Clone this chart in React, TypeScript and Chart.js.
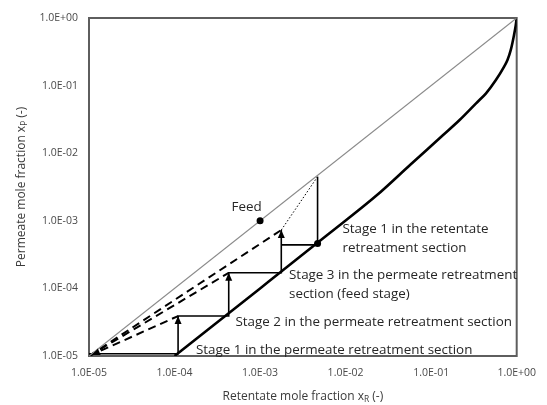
import React, { useEffect, useRef } from 'react';
import { Chart, registerables } from 'chart.js';

Chart.register(...registerables);

// ---- axis ticks ----
const decadeTicks = [1e-5, 1e-4, 1e-3, 1e-2, 1e-1, 1];
const tickLabels = ['1.0E-05', '1.0E-04', '1.0E-03', '1.0E-02', '1.0E-01', '1.0E+00'];

// ---- diagonal x_P = x_R ----
const diagonalX = [1e-5, 1];
const diagonalY = [1e-5, 1];

// ---- equilibrium (operating) curve ----
const equilibriumX = [1e-4, 1e-3, 6.15e-3, 0.0233, 0.0566, 0.138, 0.215, 0.335, 0.438, 0.571, 0.713, 0.78, 0.853, 0.931, 0.975, 1.0];
const equilibriumY = [1e-5, 1e-4, 6.2e-4, 2.4e-3, 6.68e-3, 0.0186, 0.031, 0.0547, 0.0769, 0.121, 0.191, 0.239, 0.337, 0.561, 0.78, 1.0];

// ---- permeate retreatment staircase ----
const permeateStepsX = [1e-5, 1.1e-4, 1.1e-4, 4.3e-4, 4.3e-4, 1.77e-3, 1.77e-3];
const permeateStepsY = [1.08e-5, 1.08e-5, 3.9e-5, 3.9e-5, 1.7e-4, 1.7e-4, 7.3e-4];

// ---- retentate retreatment step ----
const retentateStepX = [1.77e-3, 4.7e-3, 4.7e-3];
const retentateStepY = [4.4e-4, 4.4e-4, 4.5e-3];

// ---- arrow tips (top of each vertical) ----
const arrowTipX = [1.1e-4, 4.3e-4, 1.77e-3];
const arrowTipY = [3.9e-5, 1.7e-4, 7.3e-4];

// ---- dashed recycle lines start ----
const recycleOriginX = 1e-5;
const recycleOriginY = 1e-5;

// ---- dotted line ----
const dottedX = [4.7e-3, 1.77e-3];
const dottedY = [4.5e-3, 7.3e-4];

// ---- points ----
const feedX = [1e-3];
const feedY = [1e-3];
const retentateDotX = [4.7e-3];
const retentateDotY = [4.6e-4];

// ---- annotations ----
const labelTexts = [
  ['Feed'],
  ['Stage 1 in the retentate', 'retreatment section'],
  ['Stage 3 in the permeate retreatment', 'section (feed stage)'],
  ['Stage 2 in the permeate retreatment section'],
  ['Stage 1 in the permeate retreatment section'],
];
const labelX = [4.64e-4, 9.18e-3, 2.18e-3, 5.16e-4, 1.78e-4];
const labelY = [1.6e-3, 7.56e-4, 1.58e-4, 3.2e-5, 1.2e-5];

const FONT = '"Open Sans", "Liberation Sans", sans-serif';
const TEXT_COLOR = '#262626';

const pts = (xs: number[], ys: number[]) => xs.map((x, i) => ({ x, y: ys[i] }));

export default function App() {
  const ref = useRef<HTMLCanvasElement>(null);

  useEffect(() => {
    document.body.style.margin = '0';
    const canvas = ref.current!;

    const line = (data: any[], extra: any) => ({
      data,
      showLine: true,
      pointRadius: 0,
      pointHoverRadius: 0,
      borderColor: '#000',
      backgroundColor: '#000',
      fill: false,
      ...extra,
    });

    const datasets: any[] = [
      {
        data: pts(feedX, feedY),
        showLine: false,
        pointRadius: 3.5,
        borderWidth: 0,
        backgroundColor: '#000',
        borderColor: '#000',
      },
      {
        data: pts(retentateDotX, retentateDotY),
        showLine: false,
        pointRadius: 3.5,
        borderWidth: 0,
        backgroundColor: '#000',
        borderColor: '#000',
      },
      line(pts(diagonalX, diagonalY), { borderColor: '#8a8a8a', borderWidth: 1.2 }),
      line(pts(equilibriumX, equilibriumY), { borderWidth: 2.6, cubicInterpolationMode: 'monotone' }),
      line(pts(permeateStepsX, permeateStepsY), { borderWidth: 1.6 }),
      line(pts(retentateStepX, retentateStepY), { borderWidth: 1.6 }),
      line(pts(dottedX, dottedY), { borderWidth: 1, borderDash: [1.5, 2] }),
      ...arrowTipX.map((x, i) =>
        line(pts([recycleOriginX, x], [recycleOriginY, arrowTipY[i]]), { borderWidth: 2, borderDash: [8, 5] })
      ),
    ];

    const labelFor = (v: number) => {
      const i = decadeTicks.findIndex((t) => Math.abs(Math.log10(t) - Math.log10(v)) < 1e-6);
      return i >= 0 ? tickLabels[i] : '';
    };

    const framePlugin = {
      id: 'frame',
      beforeDatasetsDraw(chart: any) {
        const { ctx, chartArea } = chart;
        ctx.save();
        ctx.strokeStyle = '#5e5e5e';
        ctx.lineWidth = 2;
        ctx.strokeRect(chartArea.left, chartArea.top, chartArea.right - chartArea.left, chartArea.bottom - chartArea.top);
        ctx.restore();
      },
    };

    const drawHead = (ctx: any, tx: number, ty: number, fx: number, fy: number, len: number, half: number) => {
      const a = Math.atan2(ty - fy, tx - fx);
      ctx.beginPath();
      ctx.moveTo(tx, ty);
      ctx.lineTo(tx - len * Math.cos(a) + half * Math.sin(a), ty - len * Math.sin(a) - half * Math.cos(a));
      ctx.lineTo(tx - len * Math.cos(a) - half * Math.sin(a), ty - len * Math.sin(a) + half * Math.cos(a));
      ctx.closePath();
      ctx.fill();
    };

    const arrowPlugin = {
      id: 'arrows',
      afterDatasetsDraw(chart: any) {
        const { ctx, scales } = chart;
        const xs = scales.x;
        const ys = scales.y;
        ctx.save();
        ctx.fillStyle = '#000';
        arrowTipX.forEach((x, i) => {
          const px = xs.getPixelForValue(x);
          const py = ys.getPixelForValue(arrowTipY[i]);
          drawHead(ctx, px, py, px, py + 10, 8, 3.5);
        });
        const ox = xs.getPixelForValue(recycleOriginX);
        const oy = ys.getPixelForValue(recycleOriginY);
        const fx = xs.getPixelForValue(arrowTipX[0]);
        const fy = ys.getPixelForValue(arrowTipY[0]);
        drawHead(ctx, ox + 3, oy - 1, fx, fy, 8, 3.5);
        ctx.restore();
      },
    };

    const drawSubText = (ctx: any, parts: [string, boolean][], size: number) => {
      let w = 0;
      parts.forEach(([t, sub]) => {
        ctx.font = `${sub ? size * 0.7 : size}px ${FONT}`;
        w += ctx.measureText(t).width;
      });
      let x = -w / 2;
      parts.forEach(([t, sub]) => {
        ctx.font = `${sub ? size * 0.7 : size}px ${FONT}`;
        ctx.fillText(t, x, sub ? size * 0.22 : 0);
        x += ctx.measureText(t).width;
      });
    };

    const textPlugin = {
      id: 'texts',
      afterDatasetsDraw(chart: any) {
        const { ctx, scales, chartArea } = chart;
        ctx.save();
        ctx.fillStyle = TEXT_COLOR;
        ctx.textBaseline = 'middle';
        ctx.textAlign = 'left';
        ctx.font = `13.4px ${FONT}`;
        labelTexts.forEach((lines, i) => {
          const px = scales.x.getPixelForValue(labelX[i]);
          const py = scales.y.getPixelForValue(labelY[i]);
          lines.forEach((t, j) => ctx.fillText(t, px, py + j * 19.5));
        });
        ctx.fillStyle = '#3a3a3a';
        ctx.save();
        ctx.translate((chartArea.left + chartArea.right) / 2, 397);
        drawSubText(ctx, [['Retentate mole fraction x', false], ['R', true], [' (-)', false]], 12);
        ctx.restore();
        ctx.save();
        ctx.translate(22, (chartArea.top + chartArea.bottom) / 2);
        ctx.rotate(-Math.PI / 2);
        drawSubText(ctx, [['Permeate mole fraction x', false], ['P', true], [' (-)', false]], 12);
        ctx.restore();
        ctx.restore();
      },
    };

    const axis = (isX: boolean) => ({
      type: 'logarithmic',
      min: 1e-5,
      max: 1,
      afterBuildTicks: (s: any) => {
        s.ticks = decadeTicks.map((v) => ({ value: v }));
      },
      afterFit: (s: any) => {
        if (isX) s.height = 49;
        else s.width = 89;
      },
      grid: { display: false, drawTicks: false },
      border: { display: false },
      ticks: {
        callback: (v: any) => labelFor(Number(v)),
        font: { family: FONT, size: 10.5 },
        color: '#4a4a4a',
        padding: 11,
        maxRotation: 0,
        autoSkip: false,
      },
    });

    const chart = new Chart(canvas, {
      type: 'scatter',
      data: { datasets },
      options: {
        responsive: false,
        animation: false,
        layout: { padding: { top: 18, right: 26, left: 0, bottom: 0 } },
        plugins: { legend: { display: false }, tooltip: { enabled: false } },
        scales: { x: axis(true) as any, y: axis(false) as any },
      },
      plugins: [framePlugin, arrowPlugin, textPlugin],
    } as any);

    return () => chart.destroy();
  }, []);

  return (
    <div style={{ position: 'relative', width: 547, height: 405, background: '#fff' }}>
      <canvas ref={ref} width={547} height={405} style={{ display: 'block' }} />
    </div>
  );
}
